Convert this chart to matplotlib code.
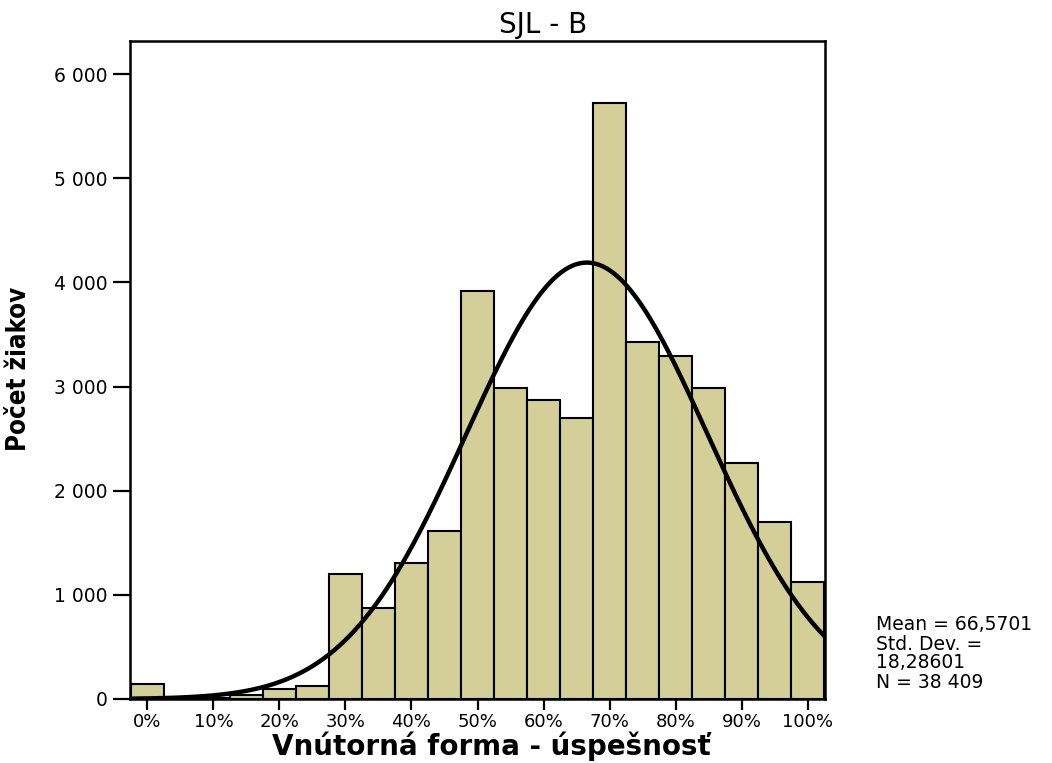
import numpy as np
import matplotlib
matplotlib.use("Agg")
import matplotlib.pyplot as plt
from matplotlib import font_manager
from matplotlib.ticker import FuncFormatter

# histogram bins (centre, % success) and student counts
bin_centres = [0, 5, 10, 15, 20, 25, 30, 35, 40, 45, 50,
               55, 60, 65, 70, 75, 80, 85, 90, 95, 100]
counts = [145, 9, 12, 40, 95, 125, 1200, 873, 1308, 1613, 3920,
          2983, 2873, 2700, 5724, 3424, 3296, 2985, 2262, 1702, 1120]
bin_width = 5

# summary statistics printed next to the chart
mean = 66.5701
std_dev = 18.28601
n_total = 38409

x_ticks = [0, 10, 20, 30, 40, 50, 60, 70, 80, 90, 100]
y_ticks = [0, 1000, 2000, 3000, 4000, 5000, 6000]

title = "SJL - B"
x_label = "Vnútorná forma - úspešnosť"
y_label = "Počet žiakov"
stats_lines = ["Mean = 66,5701", "Std. Dev. =", "18,28601", "N = 38 409"]

BAR_COLOR = "#d4cf99"
W, H = 1052, 763

plt.rcParams["font.family"] = ["DejaVu Sans"]


def narrow_bold_font():
    """Look for an installed condensed/narrow bold face for the y label."""
    for f in font_manager.fontManager.ttflist:
        label = (f.name + " " + str(f.stretch) + " " + f.fname).lower()
        bold = f.weight in ("bold", 700) or "bold" in f.fname.lower()
        if bold and f.style == "normal" and ("narrow" in label or "condensed" in label):
            return f.fname
    return None


fig = plt.figure(figsize=(W / 100, H / 100), dpi=100)
ax = fig.add_axes([130 / W, 1 - 699 / H, (825 - 130) / W, (699 - 41) / H])

ax.bar(bin_centres, counts, width=bin_width, color=BAR_COLOR,
       edgecolor="black", linewidth=1.5, zorder=2)

# normal curve scaled to counts per bin
xs = np.linspace(bin_centres[0] - bin_width / 2, bin_centres[-1] + bin_width / 2, 400)
pdf = np.exp(-0.5 * ((xs - mean) / std_dev) ** 2) / (std_dev * np.sqrt(2 * np.pi))
ax.plot(xs, pdf * n_total * bin_width, color="black", linewidth=3.2, zorder=3)

ax.set_xlim(-2.65, 102.65)
ax.set_ylim(0, 6317)

ax.set_xticks(x_ticks)
ax.set_xticklabels([f"{t}%" for t in x_ticks])
ax.set_yticks(y_ticks)
ax.yaxis.set_major_formatter(FuncFormatter(lambda v, p: f"{v:,.0f}".replace(",", " ")))

ax.tick_params(axis="y", direction="out", length=12.2, width=1.6, pad=4, labelsize=13.5)
ax.tick_params(axis="x", direction="out", length=8, width=1.6, pad=2, labelsize=13)
for s in ax.spines.values():
    s.set_linewidth(1.8)

fig.text(543 / W, 1 - 33 / H, title, ha="center", va="baseline", fontsize=20)
fig.text(491 / W, 1 - 755 / H, x_label, ha="center", va="baseline",
         fontsize=20, fontweight="bold")

narrow = narrow_bold_font()
if narrow:
    ylab_font = font_manager.FontProperties(fname=narrow, size=18.5)
else:
    ylab_font = font_manager.FontProperties(family="DejaVu Sans", weight="bold", size=13.5)
fig.text(19 / W, 1 - 368.5 / H, y_label, rotation=90, ha="center", va="center",
         fontproperties=ylab_font)

baselines = [630, 649.5, 668.5, 688]
for line, b in zip(stats_lines, baselines):
    fig.text(876 / W, 1 - b / H, line, ha="left", va="baseline", fontsize=13.5)

fig.savefig("out.png", dpi=100)
